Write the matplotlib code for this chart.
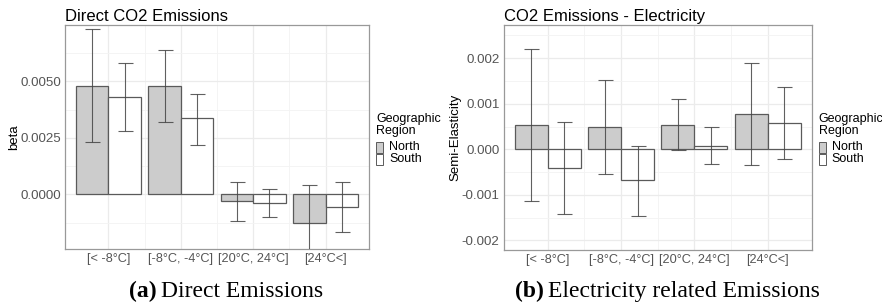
import numpy as np
import matplotlib
matplotlib.use('Agg')
import matplotlib.pyplot as plt
from matplotlib.patches import Rectangle

plt.rcParams['font.family'] = ['Liberation Sans', 'DejaVu Sans']

# data
categories = ['[< -8°C]', '[-8°C, -4°C]', '[20°C, 24°C]', '[24°C<]']
regions = ['North', 'South']

direct_north = [0.00479, 0.00479, -0.00031, -0.00128]
direct_north_lo = [0.00230, 0.00321, -0.00117, -0.00300]
direct_north_hi = [0.00730, 0.00637, 0.00056, 0.00040]
direct_south = [0.00429, 0.00336, -0.00040, -0.00056]
direct_south_lo = [0.00281, 0.00219, -0.00102, -0.00168]
direct_south_hi = [0.00579, 0.00445, 0.00022, 0.00056]

elec_north = [0.00054, 0.00050, 0.00054, 0.00077]
elec_north_lo = [-0.00113, -0.00055, -0.00002, -0.00035]
elec_north_hi = [0.00220, 0.00153, 0.00110, 0.00190]
elec_south = [-0.00042, -0.00068, 0.00008, 0.00057]
elec_south_lo = [-0.00143, -0.00147, -0.00033, -0.00021]
elec_south_hi = [0.00059, 0.00008, 0.00050, 0.00136]

W, H = 882, 304
fig = plt.figure(figsize=(W / 100, H / 100), dpi=100)

fill_colors = ['#cccccc', 'white']
edge = '#5a5a5a'
tick_col = '#555555'


def px_axes(x0, y0, x1, y1):
    return fig.add_axes([x0 / W, 1 - y1 / H, (x1 - x0) / W, (y1 - y0) / H])


def draw_panel(ax, title, ylabel, series, ylim, major, minor, fmt):
    x = np.arange(1, len(categories) + 1)
    bw = 0.45
    for i, (vals, lo, hi) in enumerate(series):
        xs = x + (i - 0.5) * bw
        vals = np.array(vals)
        ax.bar(xs, vals, width=bw, color=fill_colors[i], edgecolor=edge,
               linewidth=0.9, zorder=2, label=regions[i])
        err = [vals - np.array(lo), np.array(hi) - vals]
        ax.errorbar(xs, vals, yerr=err, fmt='none', ecolor='#444444',
                    elinewidth=0.8, capsize=5.4, capthick=0.8, alpha=0.85, zorder=3)
    ax.set_xlim(0.4, 4.6)
    ax.set_ylim(*ylim)
    ax.set_xticks(x)
    ax.set_xticklabels(categories)
    ax.set_xticks([1.5, 2.5, 3.5], minor=True)
    ax.set_yticks(major)
    ax.set_yticklabels([fmt.format(v) for v in major])
    ax.set_yticks(minor, minor=True)
    ax.grid(which='major', color='#ebebeb', linewidth=0.9, zorder=0)
    ax.grid(which='minor', color='#f3f3f3', linewidth=0.6, zorder=0)
    ax.tick_params(axis='both', which='both', length=0, labelcolor=tick_col, pad=3)
    ax.tick_params(axis='y', labelsize=9.6)
    ax.tick_params(axis='x', labelsize=9.2)
    for s in ax.spines.values():
        s.set_color('#999999')
        s.set_linewidth(0.9)
    ax.set_title(title, loc='left', fontsize=12, pad=3)
    ax.set_ylabel(ylabel, fontsize=9.5, labelpad=0)

    # legend, drawn to the right of the panel
    lx = ax.get_position().x1 * W + 7
    fig.text(lx / W, 1 - 113 / H, 'Geographic\nRegion', fontsize=9.0,
             va='top', ha='left', linespacing=1.05)
    for i, r in enumerate(regions):
        ky = 142 + i * 12
        fig.patches.append(Rectangle((lx / W, 1 - (ky + 11) / H), 7 / W, 11 / H,
                                     transform=fig.transFigure, facecolor=fill_colors[i],
                                     edgecolor=edge, linewidth=0.7))
        fig.text((lx + 13) / W, 1 - (ky + 5.5) / H, r, fontsize=9.0,
                 va='center', ha='left')


ax1 = px_axes(65, 25, 369, 249.3)
draw_panel(ax1, 'Direct CO2 Emissions', 'beta',
           [(direct_north, direct_north_lo, direct_north_hi),
            (direct_south, direct_south_lo, direct_south_hi)],
           (-0.00243, 0.00749), [0.0, 0.0025, 0.005],
           [-0.00125, 0.00125, 0.00375, 0.00625], '{:.4f}')

ax2 = px_axes(503.7, 25, 811.7, 250)
draw_panel(ax2, 'CO2 Emissions - Electricity', 'Semi-Elasticity',
           [(elec_north, elec_north_lo, elec_north_hi),
            (elec_south, elec_south_lo, elec_south_hi)],
           (-0.00221, 0.00273), [-0.002, -0.001, 0.0, 0.001, 0.002],
           [-0.0015, -0.0005, 0.0005, 0.0015, 0.0025], '{:.3f}')

# captions under the panels
cap_kw = dict(fontsize=17, family=['Liberation Serif', 'DejaVu Serif'], va='baseline')
cap_y = 1 - 297 / H
fig.text(157 / W, cap_y, '(a)', ha='right', weight='bold', **cap_kw)
fig.text(161 / W, cap_y, 'Direct Emissions', ha='left', **cap_kw)
fig.text(544 / W, cap_y, '(b)', ha='right', weight='bold', **cap_kw)
fig.text(548 / W, cap_y, 'Electricity related Emissions', ha='left', **cap_kw)

fig.savefig('out.png', dpi=100)
